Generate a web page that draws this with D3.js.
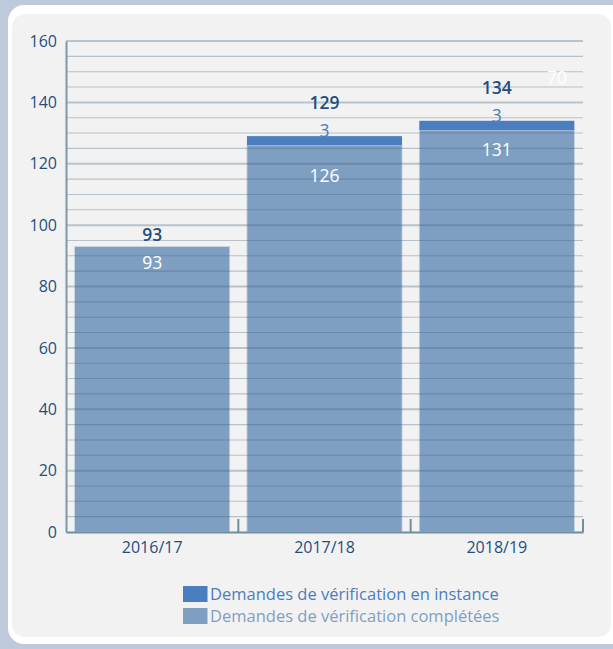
<!DOCTYPE html>
<html>
<head>
<meta charset="utf-8">
<script src="https://cdn.jsdelivr.net/npm/d3@7"></script>
<style>
  html, body { margin: 0; padding: 0; background: #bccadb; }
  svg { display: block; font-family: "Open Sans", sans-serif; }
</style>
</head>
<body>
<div id="chart"></div>
<script>
// Données
const years = ['2016/17', '2017/18', '2018/19'];
const completed = [93, 126, 131];
const pending = [0, 3, 3];
const totals = [93, 129, 134];
const yTicks = [0, 20, 40, 60, 80, 100, 120, 140, 160];
const seriesNames = ['Demandes de vérification en instance', 'Demandes de vérification complétées'];

// réglages des étiquettes (décalages manuels comme dans l'original)
const totalLabelGap = [12, 33, 33];
const completeLabelGap = [16, 31, 20];

const colors = {
    text: '#1f4e7f',
    pending: '#4a7ebf',
    completed: '#7f9fc2'
};

const W = 613, H = 649;
const margin = { top: 41, right: 30, bottom: 117, left: 66 };

const svg = d3.select('#chart')
    .append('svg')
    .attr('width', W)
    .attr('height', H);

// cadre
svg.append('rect').attr('width', W).attr('height', H).attr('fill', '#bccadb');
svg.append('rect')
    .attr('x', 8).attr('y', 5).attr('width', 620).attr('height', 639)
    .attr('rx', 16).attr('fill', '#ffffff');
svg.append('rect')
    .attr('x', 12).attr('y', 14).attr('width', 599).attr('height', 623)
    .attr('rx', 13).attr('fill', '#f2f2f2');

const x = d3.scaleBand()
    .domain(years)
    .range([margin.left, 583])
    .paddingInner(0.1)
    .paddingOuter(0.05);

const y = d3.scaleLinear()
    .domain([0, 160])
    .range([532, margin.top]);

// barres
const g = svg.append('g');
g.selectAll('rect.completed')
    .data(years)
    .enter()
    .append('rect')
    .attr('class', 'completed')
    .attr('x', d => x(d))
    .attr('y', (d, i) => y(completed[i]))
    .attr('width', x.bandwidth())
    .attr('height', (d, i) => y(0) - y(completed[i]))
    .attr('fill', colors.completed)
    .attr('stroke', '#c9d5e2')
    .attr('stroke-width', 0.8);

g.selectAll('rect.pending')
    .data(years.filter((d, i) => pending[i] > 0))
    .enter()
    .append('rect')
    .attr('class', 'pending')
    .attr('x', d => x(d))
    .attr('y', d => y(totals[years.indexOf(d)]))
    .attr('width', x.bandwidth())
    .attr('height', d => {
        const i = years.indexOf(d);
        return y(completed[i]) - y(totals[i]);
    })
    .attr('fill', colors.pending);

// quadrillage (par-dessus les barres)
const gridVals = d3.range(5, 161, 5);
svg.append('g')
    .selectAll('line')
    .data(gridVals)
    .enter()
    .append('line')
    .attr('x1', margin.left)
    .attr('x2', 583)
    .attr('y1', d => y(d))
    .attr('y2', d => y(d))
    .attr('stroke', d => d % 20 === 0 ? 'rgba(70,100,125,0.33)' : 'rgba(55,90,125,0.32)')
    .attr('stroke-width', d => d % 20 === 0 ? 2 : 1.1);

// axe Y
const yAxis = svg.append('g')
    .attr('transform', `translate(${margin.left},0)`)
    .call(d3.axisLeft(y).tickValues(yTicks).tickSize(0).tickPadding(9));
yAxis.select('.domain').attr('stroke', '#7f97a8').attr('stroke-width', 2);
yAxis.selectAll('text')
    .attr('fill', colors.text)
    .style('font-family', '"Open Sans", sans-serif')
    .style('font-size', '16px');

// axe X
const xAxis = svg.append('g')
    .attr('transform', 'translate(0,532)')
    .call(d3.axisBottom(x).tickSize(0).tickPadding(10));
xAxis.select('.domain').attr('stroke', '#6f8ea0').attr('stroke-width', 2);
xAxis.selectAll('text')
    .attr('fill', colors.text)
    .style('font-family', '"Open Sans", sans-serif')
    .style('font-size', '16px');

// petites graduations entre les catégories
svg.append('g')
    .selectAll('line')
    .data(years)
    .enter()
    .append('line')
    .attr('x1', d => x(d) + x.step() - (x.step() - x.bandwidth()) / 2)
    .attr('x2', d => x(d) + x.step() - (x.step() - x.bandwidth()) / 2)
    .attr('y1', 532)
    .attr('y2', 519)
    .attr('stroke', '#6f8ea0')
    .attr('stroke-width', 2);

// étiquettes
const labels = svg.append('g').attr('text-anchor', 'middle');

labels.selectAll('text.total')
    .data(years)
    .enter()
    .append('text')
    .attr('x', d => x(d) + x.bandwidth() / 2)
    .attr('y', (d, i) => y(totals[i]) - totalLabelGap[i])
    .attr('dy', '0.35em')
    .attr('fill', colors.text)
    .style('font-size', '17.5px')
    .style('font-weight', 600)
    .text((d, i) => totals[i]);

labels.selectAll('text.pending')
    .data(years.filter((d, i) => pending[i] > 0))
    .enter()
    .append('text')
    .attr('x', d => x(d) + x.bandwidth() / 2)
    .attr('y', d => y(totals[years.indexOf(d)]) - 5)
    .attr('dy', '0.35em')
    .attr('fill', colors.pending)
    .style('font-size', '17.5px')
    .text(d => pending[years.indexOf(d)]);

labels.selectAll('text.completed')
    .data(years)
    .enter()
    .append('text')
    .attr('x', d => x(d) + x.bandwidth() / 2)
    .attr('y', (d, i) => y(completed[i]) + completeLabelGap[i])
    .attr('dy', '0.35em')
    .attr('fill', '#ffffff')
    .style('font-size', '17.5px')
    .text((d, i) => completed[i]);

// reste d'étiquette blanche en haut à droite
svg.append('text')
    .attr('x', 557)
    .attr('y', 78)
    .attr('dy', '0.35em')
    .attr('text-anchor', 'middle')
    .attr('fill', '#ffffff')
    .style('font-size', '17.5px')
    .text('70');

// légende
const legend = svg.append('g').attr('transform', 'translate(183,586)');
const legendColors = [colors.pending, colors.completed];
seriesNames.forEach((name, i) => {
    const row = legend.append('g').attr('transform', `translate(0,${i * 22})`);
    row.append('rect')
        .attr('width', 24.5)
        .attr('height', 16)
        .attr('fill', legendColors[i]);
    row.append('text')
        .attr('x', 27)
        .attr('y', 8)
        .attr('dy', '0.35em')
        .attr('fill', legendColors[i])
        .style('font-size', '16.5px')
        .text(name);
});
</script>
</body>
</html>
